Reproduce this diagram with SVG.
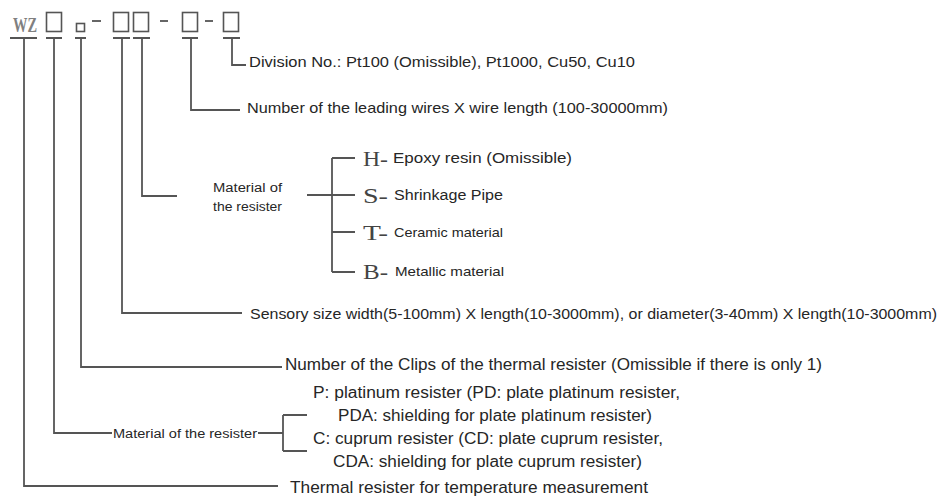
<svg xmlns="http://www.w3.org/2000/svg" width="943" height="502" viewBox="0 0 943 502">
<style>
.ln{stroke:#555;stroke-width:1.8;fill:none}
.bx{stroke:#555;stroke-width:1.6;fill:none}
.t{font-family:"Liberation Sans",Arial,sans-serif;fill:#262626}
.s{font-family:"Liberation Serif","Times New Roman",serif;fill:#444}
</style>
<rect width="943" height="502" fill="#fff"/>
<g id="code">
<text x="13" y="32" font-family="'Liberation Serif','Times New Roman',serif" font-size="22" font-weight="bold" fill="#808080" textLength="24" lengthAdjust="spacingAndGlyphs">WZ</text>
<rect class="bx" x="46.5" y="12.5" width="15" height="19"/>
<rect class="bx" x="76.5" y="23.5" width="8" height="8"/>
<line class="ln" x1="92" y1="21" x2="101" y2="21"/>
<rect class="bx" x="113.5" y="12.5" width="15" height="19"/>
<rect class="bx" x="133.5" y="12.5" width="15" height="19"/>
<line class="ln" x1="160" y1="21" x2="168" y2="21"/>
<rect class="bx" x="182.5" y="12.5" width="15" height="19"/>
<line class="ln" x1="205" y1="21" x2="213" y2="21"/>
<rect class="bx" x="223.5" y="12.5" width="15" height="19"/>
</g>
<g id="connectors">
<path class="ln" d="M10 38H37M24 38V486H278"/>
<path class="ln" d="M46 38H62M54 38V433H112M258 433H283M283 415V451M283 415H307M283 451H307"/>
<path class="ln" d="M75 38H86M81 38V367H282"/>
<path class="ln" d="M113 38H130M122 38V313H242"/>
<path class="ln" d="M133 38H150M142 38V196H177M307 195H355M332 158V272M332 158H355M332 232H355M332 272H355"/>
<path class="ln" d="M182 38H198M191 38V110H240"/>
<path class="ln" d="M223 38H240M232 38V65H246"/>
</g>
<g id="division">
<text class="t" x="249" y="67" font-size="15" textLength="386" lengthAdjust="spacingAndGlyphs">Division No.: Pt100 (Omissible), Pt1000, Cu50, Cu10</text>
</g>
<g id="leading-wires">
<text class="t" x="247" y="113" font-size="15" textLength="421" lengthAdjust="spacingAndGlyphs">Number of the leading wires X wire length (100-30000mm)</text>
</g>
<g id="material-sheath">
<text class="t" x="213" y="192" font-size="12" textLength="69" lengthAdjust="spacingAndGlyphs">Material of</text>
<text class="t" x="213" y="211" font-size="12" textLength="69" lengthAdjust="spacingAndGlyphs">the resister</text>
</g>
<g id="opt-H">
<text class="s" x="363" y="166" font-size="21" textLength="25" lengthAdjust="spacingAndGlyphs">H-</text>
<text class="t" x="393" y="163" font-size="14" textLength="179" lengthAdjust="spacingAndGlyphs">Epoxy resin (Omissible)</text>
</g>
<g id="opt-S">
<text class="s" x="363" y="203" font-size="21" textLength="25" lengthAdjust="spacingAndGlyphs">S-</text>
<text class="t" x="394" y="200" font-size="14" textLength="109" lengthAdjust="spacingAndGlyphs">Shrinkage Pipe</text>
</g>
<g id="opt-T">
<text class="s" x="363" y="240" font-size="21" textLength="25" lengthAdjust="spacingAndGlyphs">T-</text>
<text class="t" x="394" y="237" font-size="13" textLength="109" lengthAdjust="spacingAndGlyphs">Ceramic material</text>
</g>
<g id="opt-B">
<text class="s" x="363" y="279" font-size="21" textLength="25" lengthAdjust="spacingAndGlyphs">B-</text>
<text class="t" x="395" y="276" font-size="13" textLength="109" lengthAdjust="spacingAndGlyphs">Metallic material</text>
</g>
<g id="sensory">
<text class="t" x="250" y="319" font-size="15" textLength="687" lengthAdjust="spacingAndGlyphs">Sensory size width(5-100mm) X length(10-3000mm), or diameter(3-40mm) X length(10-3000mm)</text>
</g>
<g id="clips">
<text class="t" x="285" y="370" font-size="16" textLength="537" lengthAdjust="spacingAndGlyphs">Number of the Clips of the thermal resister (Omissible if there is only 1)</text>
</g>
<g id="material-element">
<text class="t" x="113" y="438" font-size="12" textLength="144" lengthAdjust="spacingAndGlyphs">Material of the resister</text>
<text class="t" x="313" y="398" font-size="16" textLength="367" lengthAdjust="spacingAndGlyphs">P: platinum resister (PD: plate platinum resister,</text>
<text class="t" x="338" y="421" font-size="16" textLength="314" lengthAdjust="spacingAndGlyphs">PDA: shielding for plate platinum resister)</text>
<text class="t" x="313" y="444" font-size="16" textLength="350" lengthAdjust="spacingAndGlyphs">C: cuprum resister (CD: plate cuprum resister,</text>
<text class="t" x="333" y="467" font-size="16" textLength="309" lengthAdjust="spacingAndGlyphs">CDA: shielding for plate cuprum resister)</text>
</g>
<g id="thermal">
<text class="t" x="290" y="493" font-size="17" textLength="358" lengthAdjust="spacingAndGlyphs">Thermal resister for temperature measurement</text>
</g>
</svg>
